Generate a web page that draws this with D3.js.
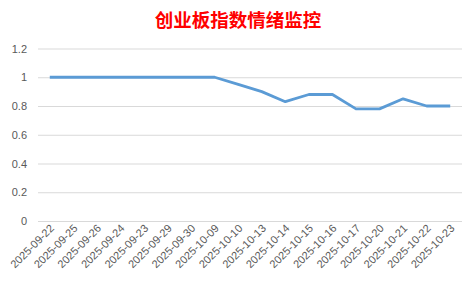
<!DOCTYPE html>
<meta charset="utf-8">
<style>
body{ margin:0; background:#fff; }
.tick text{ fill:#595959; font-family:"Liberation Sans", Arial, sans-serif; font-size:11px; }
.grid line{ stroke:#d9d9d9; stroke-width:1px; }
.title{ fill:#ff0000; font-family:"Noto Sans CJK SC", sans-serif; font-weight:bold; font-size:18.5px; text-anchor:middle; }
</style>
<body>
<script src="https://d3js.org/d3.v7.min.js"></script>
<script>
// ---------- data ----------
var dates = ["2025-09-22","2025-09-25","2025-09-26","2025-09-24","2025-09-23","2025-09-29","2025-09-30",
  "2025-10-09","2025-10-10","2025-10-13","2025-10-14","2025-10-15","2025-10-16","2025-10-17",
  "2025-10-20","2025-10-21","2025-10-22","2025-10-23"];
var values = [1, 1, 1, 1, 1, 1, 1, 1, 0.95, 0.9, 0.83, 0.88, 0.88, 0.78, 0.78, 0.85, 0.8, 0.8];
var yTicks = [0, 0.2, 0.4, 0.6, 0.8, 1, 1.2];

var W = 476, H = 284;
var margin = {left:38, right:14, top:48.5, bottom:63};

var svg = d3.select("body").append("svg").attr("width", W).attr("height", H);

svg.append("text").attr("class","title").attr("x", 238).attr("y", 27).text("创业板指数情绪监控");

var x = d3.scaleBand().domain(dates).range([margin.left, W - margin.right]);
var y = d3.scaleLinear().domain([0, 1.2]).range([H - margin.bottom, margin.top]);

// gridlines + y labels
var gy = svg.append("g").attr("class","grid")
  .attr("transform","translate(" + margin.left + ",0)")
  .call(d3.axisLeft(y).tickValues(yTicks).tickSize(-(W - margin.left - margin.right)).tickPadding(11)
    .tickFormat(function(d){ return d3.format("")(+d.toFixed(1)); }));
gy.select(".domain").remove();

// x labels
var gx = svg.append("g")
  .attr("transform","translate(0," + (H - margin.bottom) + ")")
  .call(d3.axisBottom(x).tickSize(0).tickPadding(0));
gx.select(".domain").remove();
gx.selectAll(".tick text")
  .attr("text-anchor","end")
  .attr("dy", null)
  .attr("transform","translate(5,8) rotate(-45)");

// line
var line = d3.line()
  .x(function(d, i){ return x(dates[i]) + x.bandwidth() / 2; })
  .y(function(d){ return y(d); });

svg.append("path").datum(values)
  .attr("d", line)
  .attr("fill","none")
  .attr("stroke","#5b9bd5")
  .attr("stroke-width", 2.8)
  .attr("stroke-linejoin","round");
</script>
</body>
</html>
